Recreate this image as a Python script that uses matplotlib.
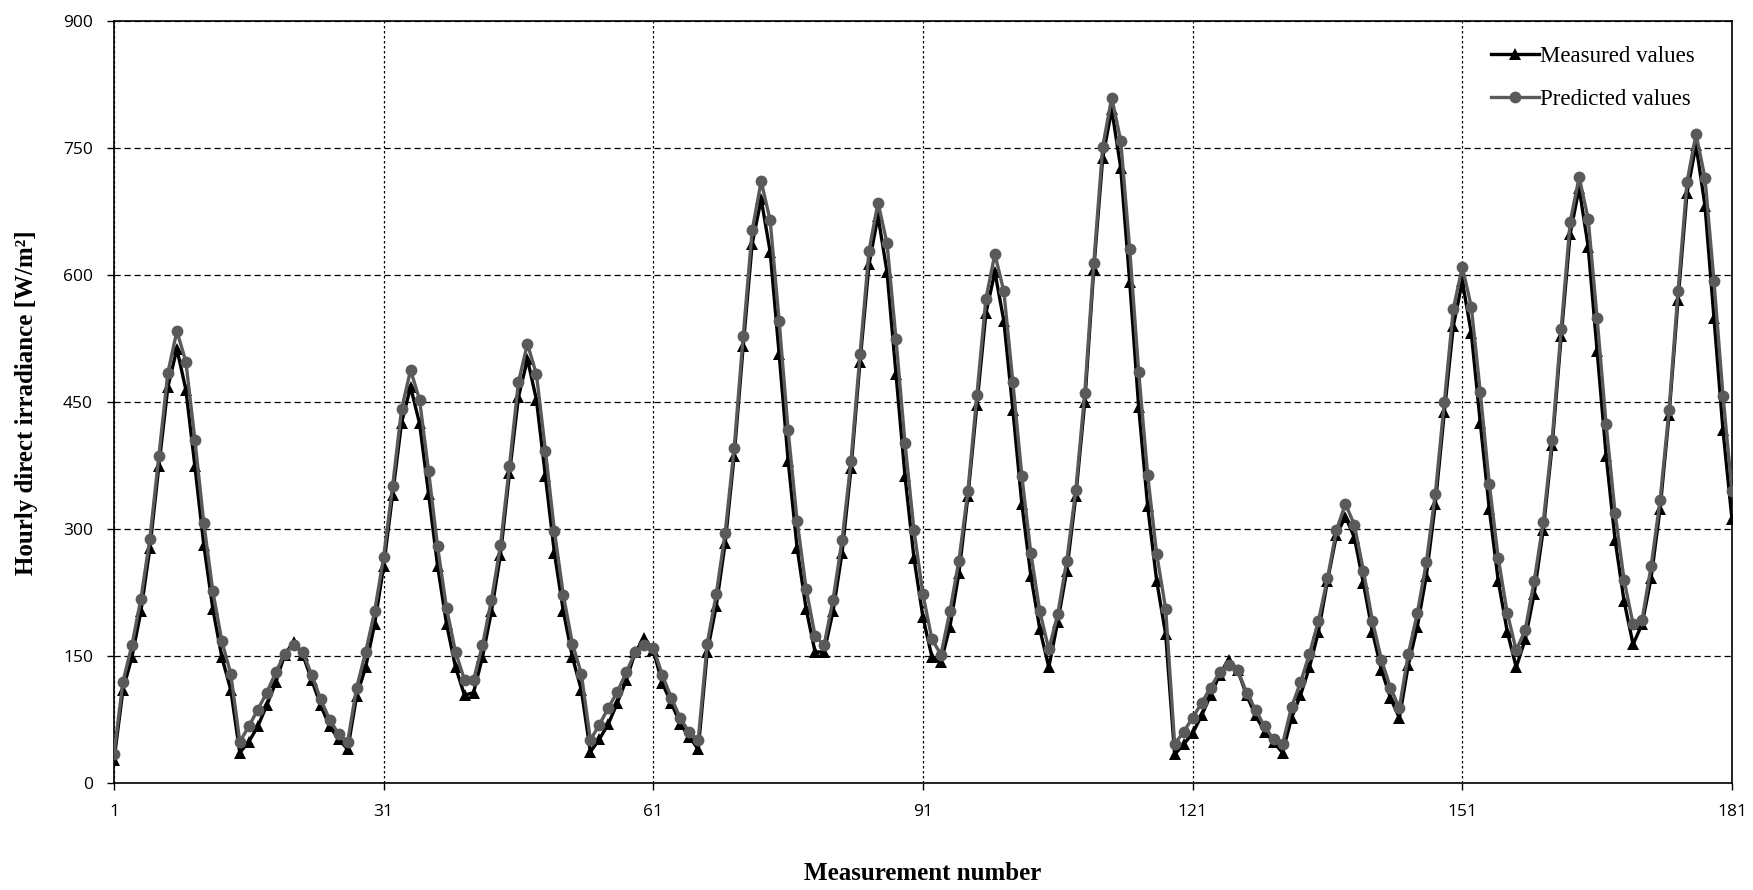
import numpy as np
import matplotlib
matplotlib.use("Agg")
import matplotlib.pyplot as plt

# ------------------------------
# Data read from the chart (measurement 1..181)
measurement = np.arange(1, 182)

measured = [
    27, 110, 149, 203, 278, 375, 468, 513, 465, 375,
    281, 206, 149, 110, 36, 49, 67, 92, 119, 152,
    167, 152, 122, 92, 67, 52, 40, 103, 137, 188,
    256, 341, 426, 468, 425, 342, 257, 188, 137, 104,
    107, 149, 203, 270, 366, 456, 501, 453, 363, 272,
    203, 149, 110, 37, 52, 70, 95, 122, 155, 172,
    157, 118, 95, 70, 55, 40, 155, 209, 284, 387,
    516, 637, 690, 628, 507, 381, 278, 206, 155, 155,
    203, 272, 372, 498, 613, 670, 604, 483, 363, 266,
    196, 149, 143, 185, 248, 339, 447, 555, 604, 546,
    441, 330, 245, 182, 137, 191, 251, 339, 450, 607,
    739, 796, 727, 592, 444, 327, 239, 176, 34, 46,
    59, 80, 104, 128, 146, 134, 104, 80, 61, 49,
    36, 77, 104, 137, 179, 239, 293, 315, 290, 236,
    179, 134, 101, 77, 140, 185, 245, 330, 438, 540,
    593, 532, 426, 324, 239, 179, 137, 170, 224, 299,
    399, 528, 649, 703, 634, 510, 387, 287, 215, 164,
    188, 242, 324, 435, 571, 697, 754, 682, 549, 417,
    312,
]

predicted = [
    34, 120, 163, 218, 289, 387, 485, 534, 498, 406,
    307, 227, 168, 129, 49, 67, 87, 107, 131, 153,
    163, 155, 128, 99, 75, 58, 49, 113, 155, 203,
    267, 351, 442, 488, 453, 369, 280, 207, 155, 122,
    122, 163, 217, 281, 375, 474, 519, 483, 393, 298,
    222, 165, 129, 51, 69, 89, 108, 131, 155, 163,
    160, 128, 101, 77, 60, 51, 165, 223, 296, 396,
    528, 653, 711, 665, 546, 417, 310, 230, 174, 163,
    217, 287, 381, 507, 629, 686, 638, 525, 402, 299,
    223, 170, 152, 203, 263, 345, 459, 572, 625, 581,
    474, 363, 272, 203, 158, 200, 263, 346, 461, 614,
    752, 810, 759, 631, 486, 364, 271, 206, 46, 61,
    77, 95, 113, 131, 140, 134, 107, 87, 67, 52,
    46, 90, 119, 153, 192, 242, 299, 330, 305, 251,
    192, 146, 113, 89, 153, 201, 261, 342, 450, 560,
    610, 563, 462, 354, 266, 201, 157, 181, 239, 308,
    406, 537, 663, 716, 667, 549, 424, 319, 240, 188,
    193, 256, 334, 441, 581, 710, 767, 715, 593, 458,
    345,
]

x_ticks = [1, 31, 61, 91, 121, 151, 181]
y_ticks = [0, 150, 300, 450, 600, 750, 900]

# ------------------------------
# Plot
fig = plt.figure(figsize=(17.53, 8.90), dpi=100)
ax = fig.add_axes([0.065, 0.120, 0.923, 0.856])

serif = "Liberation Serif"
tick_font = "Open Sans"

ax.plot(measurement, measured, color="black", linewidth=2.4, marker="^",
        markersize=9, markeredgewidth=0, label="Measured values", zorder=3)
ax.plot(measurement, predicted, color="#5a5a5a", linewidth=2.4, marker="o",
        markersize=8.5, markeredgewidth=0, label="Predicted values", zorder=4)

ax.set_xlim(1, 181)
ax.set_ylim(0, 900)
ax.set_xticks(x_ticks)
ax.set_yticks(y_ticks)

for lbl in ax.get_xticklabels() + ax.get_yticklabels():
    lbl.set_fontfamily(tick_font)
    lbl.set_fontsize(12.5)
ax.tick_params(direction="out", length=5, width=1, color="black", pad=10)

# grid: dashed horizontals, dotted verticals
ax.yaxis.grid(True, color="black", linestyle=(0, (5, 3)), linewidth=0.9)
ax.xaxis.grid(True, color="black", linestyle=(0, (2, 2)), linewidth=0.9)
ax.set_axisbelow(True)
for s in ax.spines.values():
    s.set_linewidth(1.2)

ax.set_xlabel("Measurement number", fontsize=18, fontweight="bold",
              family=serif, labelpad=30)
ax.set_ylabel("Hourly direct irradiance [W/m²]", fontsize=18,
              fontweight="bold", family=serif, labelpad=18)

ax.legend(loc="upper right", frameon=False, prop={"family": serif, "size": 16.5},
          handlelength=2.1, handletextpad=0.05, labelspacing=0.95,
          bbox_to_anchor=(0.99, 0.995))

fig.savefig("out.png", dpi=100)
